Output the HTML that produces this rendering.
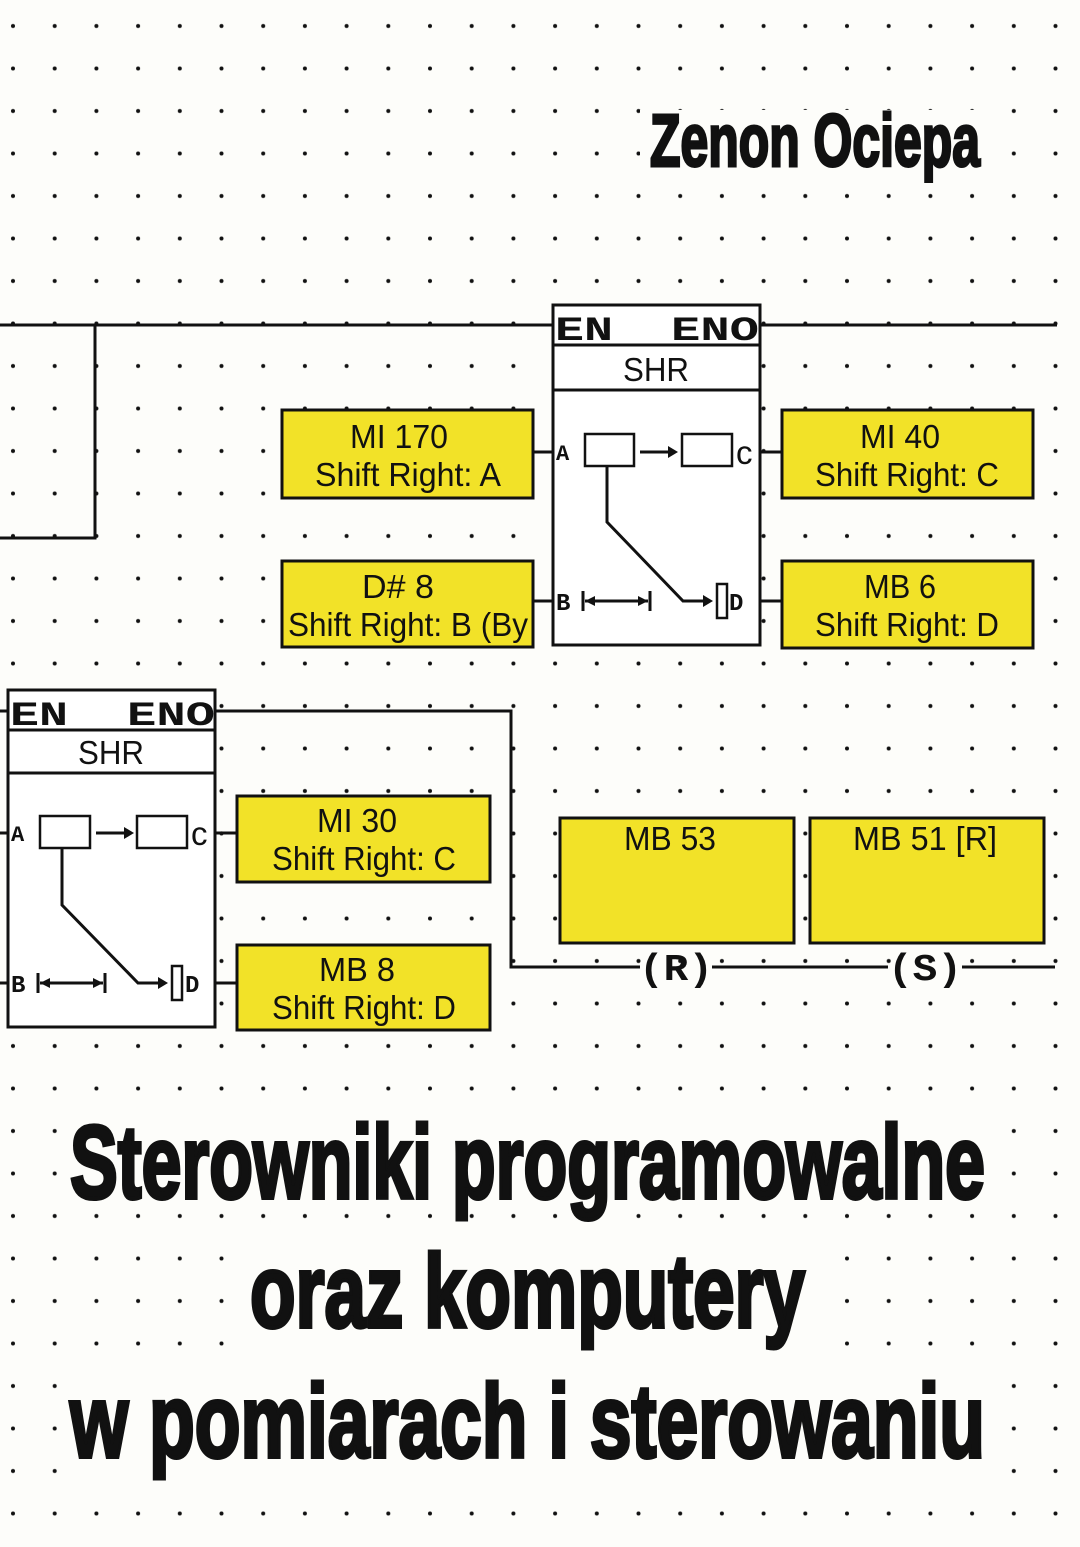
<!DOCTYPE html>
<html><head><meta charset="utf-8"><style>
html,body{margin:0;padding:0;background:#fdfdfa;}
svg{display:block;}
.y{fill:#f2e228;stroke:#111;stroke-width:3;}
.l{stroke:#111;stroke-width:3;fill:none;}
.t{font-family:"Liberation Sans",sans-serif;font-size:33px;fill:#111;}
.m{font-family:"Liberation Mono",monospace;font-weight:bold;fill:#111;}
.big{font-family:"Liberation Sans",sans-serif;font-weight:bold;fill:#111;stroke:#111;stroke-width:4;}
</style></head><body>
<svg width="1080" height="1547" viewBox="0 0 1080 1547" xmlns="http://www.w3.org/2000/svg">
<defs>
<pattern id="d" patternUnits="userSpaceOnUse" x="-7.85" y="4.75" width="41.7" height="42.5">
<circle cx="20.85" cy="21.25" r="2" fill="#111"/>
</pattern>
</defs>
<rect width="1080" height="1547" fill="#fdfdfa"/>
<rect width="1080" height="1547" fill="url(#d)"/>

<!-- author -->
<rect x="640" y="110" width="350" height="75" fill="#fdfdfa"/>
<text class="big" x="650" y="166" style="font-size:74px;stroke-width:3" textLength="330" lengthAdjust="spacingAndGlyphs">Zenon Ociepa</text>

<!-- top rung -->
<path class="l" d="M0 325 H553 M760 325 H1057 M95 325 V538 H0"/>
<!-- upper SHR block -->
<rect x="553" y="305" width="207" height="340" fill="#fff" stroke="#111" stroke-width="3"/>
<path class="l" d="M553 345 H760 M553 390 H760"/>
<text class="m" x="555" y="340" font-size="34" textLength="58" lengthAdjust="spacingAndGlyphs">EN</text>
<text class="m" x="671" y="340" font-size="34" textLength="88" lengthAdjust="spacingAndGlyphs">ENO</text>
<text class="t" x="656" y="381" text-anchor="middle" textLength="66" lengthAdjust="spacingAndGlyphs">SHR</text>
<text class="m" x="556" y="460" font-size="22">A</text>
<rect x="585" y="434" width="49" height="32" fill="#fff" stroke="#111" stroke-width="2.5"/>
<path class="l" d="M640 452 H670" stroke-width="2.5"/><path d="M668 446 L678 452 L668 458 Z" fill="#111"/>
<rect x="682" y="434" width="50" height="32" fill="#fff" stroke="#111" stroke-width="2.5"/>
<text class="t" x="736" y="464" font-size="24">c</text>
<path class="l" stroke-width="2.5" d="M607 466 V522 L683 601 H706"/><path d="M703 595 L713 601 L703 607 Z" fill="#111"/>
<rect x="717" y="584" width="10" height="34" fill="#fff" stroke="#111" stroke-width="2.5"/>
<text class="m" x="729" y="610" font-size="24">D</text>
<text class="m" x="556" y="610" font-size="24">B</text>
<path class="l" stroke-width="2.5" d="M583 591 V611 M650 591 V611 M585 601 H648"/>
<path d="M585 601 L595 596 V606 Z M648 601 L638 596 V606 Z" fill="#111"/>
<path class="l" d="M533 452 H553 M533 601 H553 M760 452 H782 M760 601 H782"/>
<!-- yellow top -->
<rect class="y" x="282" y="410" width="251" height="88"/>
<text class="t" x="399" y="448" text-anchor="middle" textLength="98" lengthAdjust="spacingAndGlyphs">MI 170</text>
<text class="t" x="408" y="486" text-anchor="middle" textLength="186" lengthAdjust="spacingAndGlyphs">Shift Right: A</text>
<rect class="y" x="282" y="561" width="251" height="86"/>
<text class="t" x="398" y="598" text-anchor="middle" textLength="72" lengthAdjust="spacingAndGlyphs">D# 8</text>
<text class="t" x="408" y="636" text-anchor="middle" textLength="240" lengthAdjust="spacingAndGlyphs">Shift Right: B (By</text>
<rect class="y" x="782" y="410" width="251" height="88"/>
<text class="t" x="900" y="448" text-anchor="middle" textLength="80" lengthAdjust="spacingAndGlyphs">MI 40</text>
<text class="t" x="907" y="486" text-anchor="middle" textLength="184" lengthAdjust="spacingAndGlyphs">Shift Right: C</text>
<rect class="y" x="782" y="561" width="251" height="87"/>
<text class="t" x="900" y="598" text-anchor="middle" textLength="72" lengthAdjust="spacingAndGlyphs">MB 6</text>
<text class="t" x="907" y="636" text-anchor="middle" textLength="184" lengthAdjust="spacingAndGlyphs">Shift Right: D</text>

<!-- lower SHR block -->
<path class="l" d="M0 711 H8 M215 711 H511 V967 H640 M712 967 H888 M962 967 H1055 M0 833 H8 M0 983 H8 M215 833 H237 M215 983 H237"/>
<rect x="8" y="690" width="207" height="337" fill="#fff" stroke="#111" stroke-width="3"/>
<path class="l" d="M8 730 H215 M8 773 H215"/>
<text class="m" x="10" y="725" font-size="34" textLength="58" lengthAdjust="spacingAndGlyphs">EN</text>
<text class="m" x="127" y="725" font-size="34" textLength="88" lengthAdjust="spacingAndGlyphs">ENO</text>
<text class="t" x="111" y="764" text-anchor="middle" textLength="66" lengthAdjust="spacingAndGlyphs">SHR</text>
<text class="m" x="11" y="841" font-size="22">A</text>
<rect x="40" y="816" width="50" height="32" fill="#fff" stroke="#111" stroke-width="2.5"/>
<path class="l" stroke-width="2.5" d="M96 833 H126"/><path d="M124 827 L134 833 L124 839 Z" fill="#111"/>
<rect x="137" y="816" width="50" height="32" fill="#fff" stroke="#111" stroke-width="2.5"/>
<text class="t" x="191" y="845" font-size="24">c</text>
<path class="l" stroke-width="2.5" d="M62 848 V905 L138 983 H161"/><path d="M158 977 L168 983 L158 989 Z" fill="#111"/>
<rect x="172" y="966" width="10" height="34" fill="#fff" stroke="#111" stroke-width="2.5"/>
<text class="m" x="185" y="992" font-size="24">D</text>
<text class="m" x="11" y="992" font-size="24">B</text>
<path class="l" stroke-width="2.5" d="M38 973 V993 M105 973 V993 M40 983 H103"/>
<path d="M40 983 L50 978 V988 Z M103 983 L93 978 V988 Z" fill="#111"/>
<rect class="y" x="237" y="796" width="253" height="86"/>
<text class="t" x="357" y="832" text-anchor="middle" textLength="80" lengthAdjust="spacingAndGlyphs">MI 30</text>
<text class="t" x="364" y="870" text-anchor="middle" textLength="184" lengthAdjust="spacingAndGlyphs">Shift Right: C</text>
<rect class="y" x="237" y="945" width="253" height="85"/>
<text class="t" x="357" y="981" text-anchor="middle" textLength="76" lengthAdjust="spacingAndGlyphs">MB 8</text>
<text class="t" x="364" y="1019" text-anchor="middle" textLength="184" lengthAdjust="spacingAndGlyphs">Shift Right: D</text>
<rect class="y" x="560" y="818" width="234" height="125"/>
<text class="t" x="670" y="850" text-anchor="middle" textLength="92" lengthAdjust="spacingAndGlyphs">MB 53</text>
<rect class="y" x="810" y="818" width="234" height="125"/>
<text class="t" x="925" y="850" text-anchor="middle" textLength="144" lengthAdjust="spacingAndGlyphs">MB 51 [R]</text>
<text class="m" x="676" y="980" font-size="38" text-anchor="middle" textLength="74" lengthAdjust="spacingAndGlyphs">(R)</text>
<text class="m" x="925" y="980" font-size="38" text-anchor="middle" textLength="74" lengthAdjust="spacingAndGlyphs">(S)</text>

<!-- title -->
<rect x="65" y="1120" width="925" height="90" fill="#fdfdfa"/>
<text class="big" x="70" y="1198" style="font-size:104px" textLength="915" lengthAdjust="spacingAndGlyphs">Sterowniki programowalne</text>
<rect x="245" y="1250" width="565" height="100" fill="#fdfdfa"/>
<text class="big" x="250" y="1327" style="font-size:104px" textLength="555" lengthAdjust="spacingAndGlyphs">oraz komputery</text>
<rect x="65" y="1380" width="925" height="100" fill="#fdfdfa"/>
<text class="big" x="70" y="1457" style="font-size:104px" textLength="915" lengthAdjust="spacingAndGlyphs">w pomiarach i sterowaniu</text>
</svg>
</body></html>
